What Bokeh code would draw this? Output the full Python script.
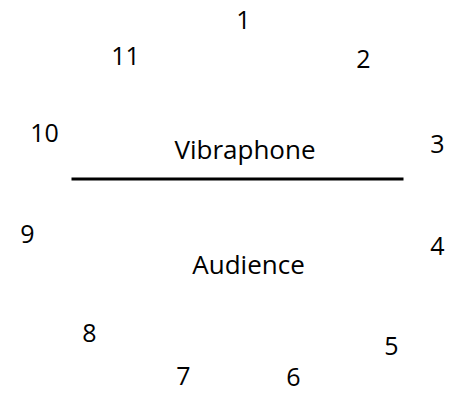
from bokeh.plotting import figure
from bokeh.models import Range1d, ColumnDataSource
from bokeh.core.properties import value
from bokeh.embed import file_html
from bokeh.resources import INLINE

# Speaker positions around the stage (picture coordinates, label anchor)
speaker_labels = ["1", "2", "3", "4", "5", "6", "7", "8", "9", "10", "11"]
speaker_x = [243, 363, 437, 437, 391, 293, 183, 89, 27, 44, 125]
speaker_y = [19, 58, 143, 245, 345, 376, 375, 332, 233, 132, 55]

# Area labels
area_labels = ["Vibraphone", "Audience"]
area_x = [244.5, 248]
area_y = [148, 263]

# Divider line under the vibraphone
divider_x = [71, 403]
divider_y = [178.5, 178.5]

FONT = "Open Sans"

p = figure(width=445, height=393, output_backend="svg", toolbar_location=None,
           x_range=Range1d(0, 445), y_range=Range1d(393, 0),
           min_border=0, outline_line_color=None, title=None)
p.axis.visible = False
p.grid.visible = False
p.background_fill_color = "white"
p.border_fill_color = "white"

src = ColumnDataSource(dict(x=speaker_x, y=speaker_y, t=speaker_labels))
p.text(x="x", y="y", text="t", source=src, text_align="center",
       text_baseline="alphabetic", text_font=value(FONT),
       text_font_size="25px", text_color="black")

src2 = ColumnDataSource(dict(x=area_x, y=area_y, t=area_labels))
p.text(x="x", y="y", text="t", source=src2, text_align="center",
       text_baseline="alphabetic", text_font=value(FONT),
       text_font_size="26px", text_color="black")

p.line(divider_x, divider_y, line_width=3, line_color="black")

open("out.html", "w").write(file_html(p, INLINE))
